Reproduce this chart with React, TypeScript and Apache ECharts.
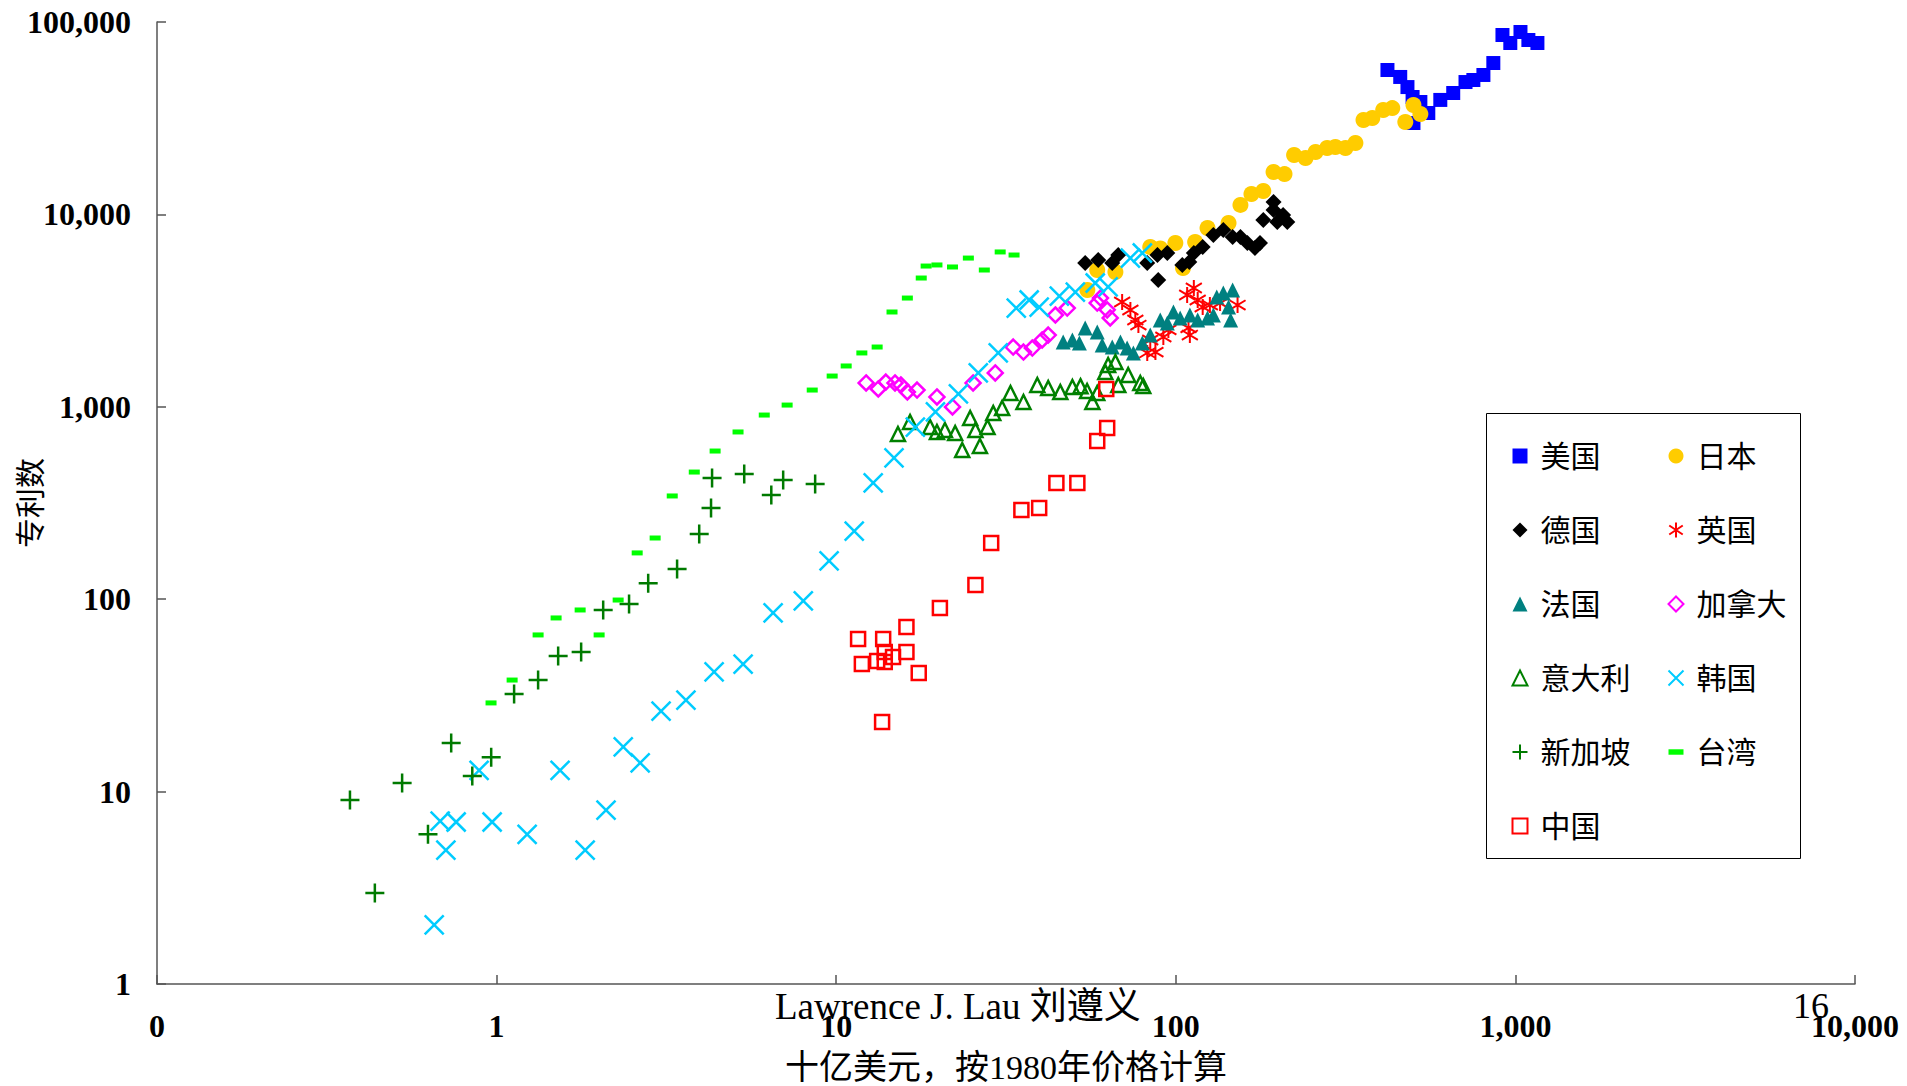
import React, { useEffect, useRef } from "react";
import * as echarts from "echarts";

// [GDP (billion 1980 US$), patents]
const usa: number[][] = [[420,56300],[458,51800],[481,45900],[498,40750],[525,38400],[501,29850],[554,33650],[601,39350],[656,42750],[713,48750],[752,49950],[805,53050],[861,61200],[916,85600],[966,77800],[1035,88700],[1092,80600],[1161,77800]];
const japan: number[][] = [[54.9,4045],[58.7,5140],[66.4,5020],[84.1,6770],[90,6650],[99.7,7100],[105,5265],[114,7190],[124,8500],[143,9020],[155,11200],[167,12770],[181,13240],[194,16600],[209,16200],[223,20360],[241,19650],[258,21100],[279,22150],[295,22400],[316,22150],[338,23500],[357,30950],[379,31700],[408,34900],[434,35700],[474,30200],[501,37050],[525,33250]];
const germany: number[][] = [[54.1,5590],[59.1,5800],[65,5590],[67.7,6150],[82.4,5590],[88.3,6150],[88.8,4560],[94.4,6300],[104.5,5460],[109.6,5660],[113,6300],[120,6770],[129,7810],[138,8300],[147,7630],[155,7630],[162.5,7100],[171,6690],[177,7100],[181,9350],[194,11600],[194,10540],[199,9130],[207,9930],[213,9130]];
const uk: number[][] = [[69.5,3505],[73.5,3185],[76,2825],[77.6,2660],[84.1,2225],[82.4,1905],[87.1,1925],[91.9,2305],[95.1,2510],[108,3810],[113,4145],[116,3590],[109,2570],[110,2360],[120,3300],[126,3380],[135,3460],[152,3380]];
const france: number[][] = [[46.6,2170],[49.6,2225],[52,2145],[54.1,2570],[58.7,2450],[60.7,2095],[65,2045],[68.7,2170],[71.9,2020],[75,1905],[79.7,2145],[84.1,2360],[90,2825],[94.4,2725],[98.4,3110],[103,2895],[110,3000],[116,2825],[124,2895],[129,3000],[132,3720],[138,3900],[147,4045],[143,3300],[145,2825]];
const canada: number[][] = [[12.25,1330],[13.3,1238],[14,1345],[14.9,1330],[15.5,1298],[16.2,1194],[17.3,1222],[19.8,1125],[22,998],[25.3,1330],[29.4,1500],[33.2,2045],[35.6,1925],[37.8,2020],[40.4,2225],[42.1,2360],[44.2,3000],[47.9,3260],[58.7,3460],[60,3675],[62.8,3190],[64.1,2895]];
const italy: number[][] = [[15.2,722],[16.5,834],[18.9,785],[19.8,740],[20.9,757],[22.4,731],[23.5,596],[24.8,875],[25.7,757],[26.5,626],[27.9,785],[29,929],[30.8,985],[32.6,1180],[35.6,1059],[39.1,1298],[42.1,1252],[45.7,1194],[49.6,1268],[52.4,1280],[54.8,1208],[56.8,1059],[58.7,1180],[62,1517],[63.2,1650],[66.4,1710],[67.7,1298],[72.4,1462],[78.6,1330],[80.2,1282]];
const korea: number[][] = [[0.655,2.03],[0.682,7.03],[0.709,4.97],[0.76,6.95],[0.888,12.9],[0.97,6.95],[1.23,6],[1.538,12.9],[1.823,4.97],[2.1,8.02],[2.36,17.1],[2.647,14.1],[3.05,26.2],[3.61,29.9],[4.37,41.9],[5.32,46],[6.52,84.8],[8,97.9],[9.53,158],[11.3,226],[12.85,402],[14.8,542],[17.1,785],[19.6,940],[22.9,1166],[26.2,1500],[30,1905],[33.9,3260],[37,3590],[39.6,3300],[45.4,3765],[50.6,3950],[57.9,4400],[63.2,4200],[73.5,5930],[79.7,6300]];
const singapore: number[][] = [[0.37,9.04],[0.438,2.97],[0.527,11.1],[0.628,6],[0.735,17.9],[0.848,12.05],[0.964,15.1],[1.126,32.2],[1.325,38],[1.518,50.7],[1.774,53.2],[2.06,87.9],[2.455,94.4],[2.795,121],[3.4,143.5],[3.95,218],[4.28,298],[4.31,427],[5.36,448],[6.44,348],[6.98,417],[8.67,397]];
const taiwan: number[][] = [[0.963,28.9],[1.111,38],[1.325,65.2],[1.497,79.9],[1.762,87.9],[2.004,65.2],[2.28,99],[2.594,174],[2.93,208],[3.29,344],[3.82,458],[4.4,589],[5.14,740],[6.14,906],[7.17,1021],[8.5,1222],[9.73,1445],[10.7,1630],[11.9,1905],[13.2,2045],[14.6,3110],[16.2,3675],[17.8,4670],[18.4,5390],[19.8,5460],[22,5330],[24.5,5930],[27.3,5140],[30.4,6380],[33.4,6150]];
const china: number[][] = [[11.6,62.1],[13.75,62.1],[16.1,71.7],[11.9,46.1],[13.2,47.7],[13.9,47.2],[13.9,53.2],[14.7,50.1],[16.1,53.2],[17.5,41.3],[13.65,23],[20.2,90],[25.7,118.6],[28.6,196],[35.1,291],[39.6,298],[44.5,402],[51.3,402],[58.7,664],[62.8,776],[62.4,1238]];

const legendLeft = ["美国", "德国", "法国", "意大利", "新加坡", "中国"];
const legendRight = ["日本", "英国", "加拿大", "韩国", "台湾"];

const xTitle = "十亿美元，按1980年价格计算";
const yTitle = "专利数";
const footer = "Lawrence J. Lau 刘遵义";
const pageNo = "16";

const SERIF = "'Liberation Serif', 'Noto Sans CJK SC', serif";

const PLUS = "path://M0,10L20,10M10,0L10,20";
const CROSS = "path://M0,0L20,20M20,0L0,20";
const STAR = "path://M10,0L10,20M1,4L19,16M19,4L1,16";
const DASH = "path://M0,0L11,0L11,4L0,4Z";

function fmt(v: number) {
  if (v < 1) return "0";
  return Math.round(v).toLocaleString("en-US");
}

export default function App() {
  const ref = useRef<HTMLDivElement>(null);
  useEffect(() => {
    document.body.style.margin = "0";
    const chart = echarts.init(ref.current!, null, { renderer: "svg" });
    const filled = (name: string, data: number[][], symbol: string, size: any, color: string) => ({
      name, type: "scatter", data, symbol, symbolSize: size,
      itemStyle: { color, opacity: 1 },
    });
    const hollow = (name: string, data: number[][], symbol: string, size: number, color: string, bw: number) => ({
      name, type: "scatter", data, symbol, symbolSize: size,
      itemStyle: { color: "none", borderColor: color, borderWidth: bw, opacity: 1 },
    });
    const series: any[] = [
      filled("美国", usa, "rect", 14, "#0000FF"),
      filled("日本", japan, "circle", 16, "#FFCC00"),
      filled("德国", germany, "diamond", 16, "#000000"),
      hollow("英国", uk, STAR, 16, "#FF0000", 2),
      filled("法国", france, "triangle", 15, "#008080"),
      hollow("加拿大", canada, "diamond", 15, "#FF00FF", 2.5),
      hollow("意大利", italy, "triangle", 14, "#008000", 2.5),
      hollow("韩国", korea, CROSS, 19, "#00CCFF", 2.5),
      hollow("新加坡", singapore, PLUS, 19, "#007A00", 2.5),
      filled("台湾", taiwan, "rect", [11, 5], "#00FF00"),
      hollow("中国", china, "rect", 14, "#FF0000", 2.5),
    ];
    const legendCommon = {
      orient: "vertical",
      itemWidth: 15,
      itemHeight: 15,
      itemGap: 44,
      textStyle: { fontFamily: SERIF, fontSize: 30, color: "#000", lineHeight: 30, padding: [0, 0, 0, 8] },
    };
    const mkData = (names: string[]) =>
      names.map((n) => (n === "台湾" ? { name: n, icon: DASH } : { name: n }));
    const axisLineStyle = { color: "#555555", width: 1.5 };
    chart.setOption({
      animation: false,
      backgroundColor: "#ffffff",
      grid: { left: 157, right: 52, top: 22, bottom: 102, containLabel: false, outerBoundsMode: "none" },
      xAxis: {
        type: "log", logBase: 10, min: 0.1, max: 10000,
        name: xTitle, nameLocation: "middle", nameGap: 66, nameMoveOverlap: false,
        nameTextStyle: { fontFamily: SERIF, fontSize: 34, color: "#000" },
        axisLine: { lineStyle: axisLineStyle },
        axisTick: { inside: true, length: 9, lineStyle: axisLineStyle },
        minorTick: { show: false },
        splitLine: { show: false },
        axisLabel: { formatter: fmt, fontFamily: SERIF, fontWeight: "bold", fontSize: 32, color: "#000", margin: 26 },
      },
      yAxis: {
        type: "log", logBase: 10, min: 1, max: 100000,
        name: yTitle, nameLocation: "middle", nameGap: 112, nameMoveOverlap: false,
        nameTextStyle: { fontFamily: SERIF, fontSize: 30, color: "#000" },
        axisLine: { lineStyle: axisLineStyle },
        axisTick: { inside: true, length: 9, lineStyle: axisLineStyle },
        minorTick: { show: false },
        splitLine: { show: false },
        axisLabel: { formatter: fmt, fontFamily: SERIF, fontWeight: "bold", fontSize: 32, color: "#000", margin: 26 },
      },
      legend: [
        { ...legendCommon, left: 1505, top: 436, data: mkData(legendLeft) },
        { ...legendCommon, left: 1661, top: 436, data: mkData(legendRight) },
      ],
      graphic: [
        {
          type: "rect", left: 1486, top: 413, z: 0, silent: true,
          shape: { width: 314, height: 445 },
          style: { fill: "#ffffff", stroke: "#000000", lineWidth: 1 },
        },
        {
          type: "text", left: 775, top: 988, silent: true,
          style: { text: footer, font: "37px " + SERIF, fill: "#000" },
        },
        {
          type: "text", left: 1793, top: 988, silent: true,
          style: { text: pageNo, font: "36px " + SERIF, fill: "#000" },
        },
      ],
      series,
    });
    return () => chart.dispose();
  }, []);
  return <div ref={ref} style={{ width: 1907, height: 1086 }} />;
}
